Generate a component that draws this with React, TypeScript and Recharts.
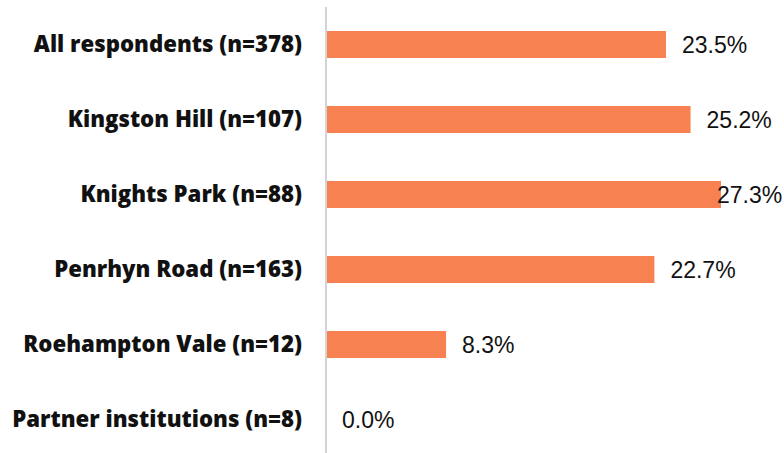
import { BarChart, Bar, XAxis, YAxis } from 'recharts'

const categories = [
  'All respondents (n=378)',
  'Kingston Hill (n=107)',
  'Knights Park (n=88)',
  'Penrhyn Road (n=163)',
  'Roehampton Vale (n=12)',
  'Partner institutions (n=8)',
]
const percents = [23.5, 25.2, 27.3, 22.7, 8.3, 0.0]

const data = categories.map((name, i) => ({ name, value: percents[i] }))

const CHART_W = 784
const LABEL_W = 65
const BAR_COLOR = '#F78150'

// draws the bar and its value label together so that 0% still gets a label
function BarWithLabel(props: any) {
  const { x, y, width, height, value } = props
  const v = Array.isArray(value) ? value[1] - value[0] : value
  let lx = x + width + 16
  if (lx + LABEL_W > CHART_W - 2) lx = CHART_W - 2 - LABEL_W
  return (
    <g>
      {width > 0 && <rect x={x} y={y} width={width} height={height} fill={BAR_COLOR} />}
      <text
        x={lx}
        y={y + height / 2}
        dy="0.36em"
        fontSize={23}
        fontFamily="'Liberation Sans', Arial, sans-serif"
        fill="#111"
      >
        {`${Number(v).toFixed(1)}%`}
      </text>
    </g>
  )
}

export default function App() {
  return (
    <div style={{ width: CHART_W, height: 453, overflow: 'hidden', background: '#fff' }}>
      <style>{`body { margin: 0; }`}</style>
      <BarChart
        width={CHART_W}
        height={457}
        data={data}
        layout="vertical"
        margin={{ top: 7, right: 24, left: 0, bottom: 0 }}
        barSize={27}
      >
        <XAxis type="number" domain={[0, 30]} hide />
        <YAxis
          type="category"
          dataKey="name"
          width={326}
          tickLine={false}
          tickSize={0}
          tickMargin={24}
          axisLine={{ stroke: '#d4d4d4', strokeWidth: 2 }}
          tick={{
            fill: '#111',
            fontSize: 22.2,
            fontWeight: 800,
            fontFamily: "'Open Sans', sans-serif",
          }}
        />
        <Bar dataKey="value" fill={BAR_COLOR} shape={BarWithLabel} isAnimationActive={false} />
      </BarChart>
    </div>
  )
}
